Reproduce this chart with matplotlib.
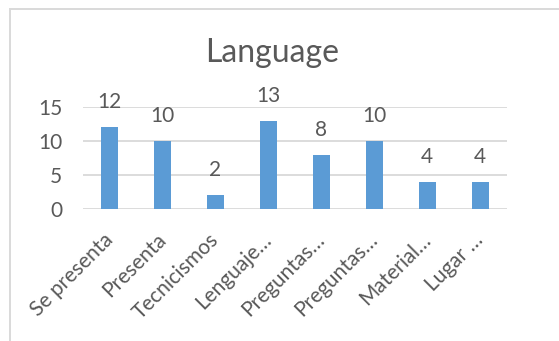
import matplotlib
matplotlib.use("Agg")
import matplotlib.pyplot as plt
import matplotlib.transforms as mtransforms
from matplotlib.patches import Rectangle

# ---------- Data ----------
categories = ["Se presenta", "Presenta", "Tecnicismos", "Lenguaje…",
              "Preguntas…", "Preguntas…", "Material…", "Lugar …"]
counts = [12, 10, 2, 13, 8, 10, 4, 4]
y_ticks = [0, 5, 10, 15]

# ---------- Style ----------
bar_color = "#5B9BD5"
text_color = "#595959"
grid_color = "#D9D9D9"
plt.rcParams["font.family"] = ["Lato", "DejaVu Sans"]

fig = plt.figure(figsize=(5.59, 3.41), dpi=100)
fig.patch.set_facecolor("white")

# chart frame
fig.add_artist(Rectangle((10 / 559, -0.1), 1.2, 1.1 - 9 / 341,
                         transform=fig.transFigure, facecolor="none",
                         edgecolor=grid_color, linewidth=1.4))

ax = fig.add_axes([0.1485, 0.387, 0.758, 0.299])
x = list(range(len(categories)))
ax.bar(x, counts, width=0.315, color=bar_color, zorder=3)

ax.set_xlim(-0.5, len(categories) - 0.5)
ax.set_ylim(0, 15)
ax.set_yticks(y_ticks)
ax.set_xticks(x)
ax.set_xticklabels(categories, rotation=45, ha="right", rotation_mode="anchor")
ax.tick_params(axis="y", length=0, pad=15, labelsize=15, labelcolor=text_color)
ax.tick_params(axis="x", length=0, pad=13, labelsize=15, labelcolor=text_color)
shift = mtransforms.ScaledTranslation(-5 / 72, -2 / 72, fig.dpi_scale_trans)
for lbl in ax.get_xticklabels():
    lbl.set_transform(lbl.get_transform() + shift)
ax.grid(True, axis="y", color=grid_color, linewidth=1.3, zorder=0)
for s in ax.spines.values():
    s.set_visible(False)

for xi, v in zip(x, counts):
    ax.annotate(str(v), (xi, v), xytext=(0, 18), textcoords="offset points",
                ha="center", va="center", fontsize=15, color=text_color,
                annotation_clip=False)

fig.text(0.487, 0.845, "Language", ha="center", va="center",
         fontsize=23, color=text_color)

fig.savefig("out.png", dpi=100)
